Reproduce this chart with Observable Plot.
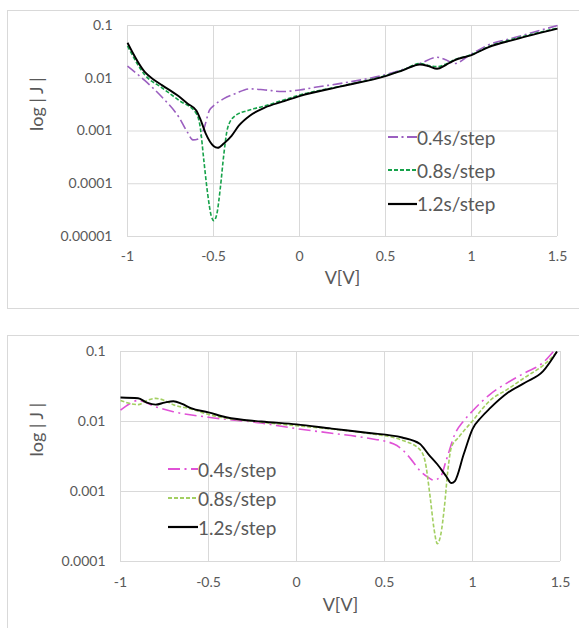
<!DOCTYPE html>
<html>
<head>
<meta charset="utf-8">
<script src="https://cdn.jsdelivr.net/npm/d3@7"></script>
<script src="https://cdn.jsdelivr.net/npm/@observablehq/plot@0.6"></script>
<style>
  html, body { margin: 0; padding: 0; background: #fff; width: 579px; height: 628px; overflow: hidden; }
  .panel { position: absolute; border: 1px solid #d9d9d9; border-right: none; }
  .chart { position: absolute; left: 0; }
  .legend { position: absolute; font-family: Lato, "Open Sans", sans-serif; font-size: 19px; color: #595959; }
  .legend .row { position: absolute; left: 0; white-space: nowrap; display: flex; align-items: center; height: 20px; }
  .legend svg { display: block; }
</style>
</head>
<body>
<div class="panel" style="left:7px; top:10px; width:600px; height:297px;"></div>
<div class="panel" style="left:7px; top:335px; width:600px; height:320px;"></div>
<div id="top" class="chart" style="top:0px;"></div>
<div id="bot" class="chart" style="top:320px;"></div>
<div id="legTop" class="legend" style="left:388px; top:127px;"></div>
<div id="legBot" class="legend" style="left:168px; top:459px;"></div>
<script>
// ---------- data (V in volts, |J|) ----------
const seriesNames = ["0.4s/step", "0.8s/step", "1.2s/step"];
const xTicks = [-1, -0.5, 0, 0.5, 1, 1.5];
const yTicksTop = [0.1, 0.01, 0.001, 0.0001, 0.00001];
const yTicksBot = [0.1, 0.01, 0.001, 0.0001];

// Top panel
const topV04 = [-1, -0.9, -0.8, -0.7, -0.652, -0.62, -0.588, -0.556, -0.524, -0.5, -0.44, -0.374, -0.289, -0.2, -0.1, 0, 0.1, 0.25, 0.5, 0.7, 0.8, 0.85, 0.9, 1.0, 1.1, 1.25, 1.5];
const topJ04 = [0.017, 0.0091, 0.0044, 0.0018, 0.00095, 0.00068, 0.00071, 0.0011, 0.00245, 0.003, 0.0041, 0.0051, 0.0063, 0.006, 0.0056, 0.006, 0.0068, 0.0081, 0.0117, 0.019, 0.025, 0.0224, 0.019, 0.029, 0.043, 0.059, 0.1];

const topV08 = [-1, -0.9, -0.8, -0.7, -0.6, -0.577, -0.556, -0.534, -0.513, -0.498, -0.481, -0.46, -0.44, -0.417, -0.374, -0.3, -0.2, -0.1, 0, 0.25, 0.5, 0.6, 0.7, 0.75, 0.8, 0.85, 0.9, 1.0, 1.1, 1.25, 1.5];
const topJ08 = [0.041, 0.0117, 0.0066, 0.0038, 0.00214, 0.00117, 0.000275, 0.0000646, 0.0000245, 0.00002, 0.0000263, 0.000085, 0.00036, 0.00117, 0.00195, 0.00245, 0.003, 0.0038, 0.0048, 0.0072, 0.0112, 0.0143, 0.019, 0.0175, 0.0166, 0.0185, 0.0224, 0.028, 0.040, 0.056, 0.089];

const topV12 = [-1, -0.9, -0.845, -0.8, -0.7, -0.65, -0.6, -0.577, -0.545, -0.5, -0.475, -0.44, -0.395, -0.353, -0.289, -0.2, -0.1, 0, 0.25, 0.5, 0.6, 0.7, 0.75, 0.8, 0.85, 0.9, 1.0, 1.1, 1.25, 1.5];
const topJ12 = [0.047, 0.0132, 0.0093, 0.0074, 0.0045, 0.0033, 0.00245, 0.0017, 0.00089, 0.00052, 0.00048, 0.00058, 0.00081, 0.00126, 0.00195, 0.0028, 0.0036, 0.0046, 0.0071, 0.011, 0.0141, 0.0182, 0.017, 0.0151, 0.0178, 0.0219, 0.0275, 0.039, 0.054, 0.087];

// Bottom panel
const botV04 = [-1, -0.95, -0.9, -0.8, -0.7, -0.5, -0.2, 0, 0.2, 0.4, 0.55, 0.6, 0.65, 0.7, 0.75, 0.78, 0.82, 0.85, 0.9, 0.95, 1.0, 1.1, 1.2, 1.3, 1.4, 1.46];
const botJ04 = [0.0145, 0.0178, 0.02, 0.0162, 0.0138, 0.0115, 0.0095, 0.0079, 0.0068, 0.0058, 0.0048, 0.004, 0.0029, 0.002, 0.00158, 0.00145, 0.00166, 0.00275, 0.0066, 0.0102, 0.0141, 0.0245, 0.036, 0.05, 0.069, 0.1];

const botV08 = [-1, -0.9, -0.85, -0.8, -0.75, -0.7, -0.6, -0.5, -0.2, 0, 0.2, 0.4, 0.6, 0.7, 0.73, 0.76, 0.78, 0.8, 0.82, 0.84, 0.86, 0.88, 0.92, 1.0, 1.1, 1.2, 1.3, 1.4, 1.48];
const botJ08 = [0.02, 0.0174, 0.02, 0.0214, 0.02, 0.0174, 0.0151, 0.0126, 0.0098, 0.0087, 0.0078, 0.0068, 0.0054, 0.004, 0.00275, 0.00081, 0.00031, 0.00018, 0.000245, 0.00059, 0.002, 0.0043, 0.0059, 0.0102, 0.02, 0.029, 0.043, 0.063, 0.098];

const botV12 = [-1, -0.9, -0.85, -0.8, -0.75, -0.7, -0.65, -0.6, -0.5, -0.4, -0.2, 0, 0.2, 0.4, 0.6, 0.7, 0.75, 0.8, 0.85, 0.88, 0.9, 0.95, 1.0, 1.05, 1.1, 1.2, 1.3, 1.4, 1.48];
const botJ12 = [0.022, 0.0215, 0.0186, 0.0174, 0.0186, 0.0195, 0.0178, 0.0155, 0.0135, 0.0115, 0.01, 0.0091, 0.0079, 0.0069, 0.0059, 0.0048, 0.0034, 0.00245, 0.00166, 0.00132, 0.00141, 0.0034, 0.0078, 0.0115, 0.0155, 0.0257, 0.036, 0.052, 0.1];

// ---------- styles ----------
const topStyles = [
  {stroke: "#9b5fc0", dash: "10,3.5,2,3.5", width: 1.6},
  {stroke: "#16a24a", dash: "4,2", width: 1.6},
  {stroke: "#000000", dash: null, width: 1.9}
];
const botStyles = [
  {stroke: "#e052d6", dash: "12,4.5,2,4.5", width: 1.6},
  {stroke: "#a3cf62", dash: "4,2", width: 1.6},
  {stroke: "#000000", dash: null, width: 1.9}
];

function toRows(vs, js) { return vs.map((v, i) => ({v, j: js[i]})); }

const font = 'Lato, "Open Sans", sans-serif';

function makeChart(series, styles, opts) {
  const marks = [
    Plot.gridX(xTicks, {stroke: "#d9d9d9", strokeOpacity: 1, strokeWidth: 1}),
    Plot.gridY(opts.yTicks, {stroke: "#d9d9d9", strokeOpacity: 1, strokeWidth: 1}),
    Plot.axisX(xTicks, {tickSize: 0, tickPadding: opts.xPad, tickFormat: d => String(d), fontSize: 14, fill: "#595959", label: null}),
    Plot.axisY(opts.yTicks, {tickSize: 0, tickPadding: 15, tickFormat: d => String(d), fontSize: 14, fill: "#595959", label: null}),
    Plot.text(["V[V]"], {frameAnchor: "bottom", dy: opts.xLabelDy, fontSize: 18, fill: "#595959"}),
    Plot.text(["log | J |"], {frameAnchor: "left", dx: opts.yLabelDx, rotate: -90, fontSize: 18, fill: "#595959"})
  ];
  series.forEach((s, i) => {
    const st = styles[i];
    marks.push(Plot.line(s, {x: "v", y: "j", curve: "monotone-x", stroke: st.stroke, strokeWidth: st.width, strokeDasharray: st.dash, strokeLinecap: "butt"}));
  });
  return Plot.plot({
    width: 579,
    height: opts.height,
    marginLeft: opts.ml,
    marginRight: opts.mr,
    marginTop: opts.mt,
    marginBottom: opts.mb,
    style: {fontFamily: font, background: "transparent", overflow: "visible"},
    x: {domain: [-1, 1.5], axis: null},
    y: {type: "log", domain: opts.yDomain, axis: null},
    marks
  });
}

document.getElementById("top").append(makeChart(
  [toRows(topV04, topJ04), toRows(topV08, topJ08), toRows(topV12, topJ12)],
  topStyles,
  {height: 308, ml: 127, mr: 22, mt: 25, mb: 72, yTicks: yTicksTop, yDomain: [0.00001, 0.1], xPad: 15, xLabelDy: 47, yLabelDx: -90}
));

document.getElementById("bot").append(makeChart(
  [toRows(botV04, botJ04), toRows(botV08, botJ08), toRows(botV12, botJ12)],
  botStyles,
  {height: 308, ml: 120, mr: 19, mt: 31, mb: 67, yTicks: yTicksBot, yDomain: [0.0001, 0.1], xPad: 16, xLabelDy: 49, yLabelDx: -83}
));

function makeLegend(id, styles, spacing, lineW) {
  const el = document.getElementById(id);
  seriesNames.forEach((name, i) => {
    const st = styles[i];
    const row = document.createElement("div");
    row.className = "row";
    row.style.top = (i * spacing) + "px";
    row.innerHTML = `<svg width="${lineW}" height="20"><line x1="0" x2="${lineW}" y1="10" y2="10" stroke="${st.stroke}" stroke-width="${st.width + 0.3}" ${st.dash ? `stroke-dasharray="${st.dash}"` : ""}/></svg><span>${name}</span>`;
    el.append(row);
  });
}
makeLegend("legTop", topStyles, 33.3, 29);
makeLegend("legBot", botStyles, 29, 30);
</script>
</body>
</html>
